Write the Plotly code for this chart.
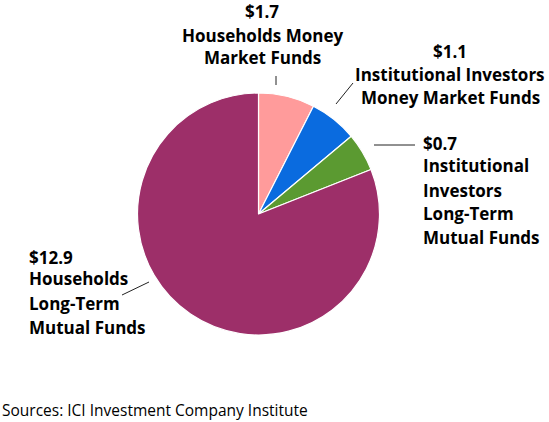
import plotly.graph_objects as go

W, H = 549, 422

# Data
categories = [
    "Households Money Market Funds",
    "Institutional Investors Money Market Funds",
    "Institutional Investors Long-Term Mutual Funds",
    "Households Long-Term Mutual Funds",
]
amounts = ["$1.7", "$1.1", "$0.7", "$12.9"]            # label amounts ($ trillions)
slice_shares = [7.5, 6.4, 5.1, 81.0]                    # slice sizes as drawn (%)
label_lines = [
    ["Households Money", "Market Funds"],
    ["Institutional Investors", "Money Market Funds"],
    ["Institutional", "Investors", "Long-Term", "Mutual Funds"],
    ["Households", "Long-Term", "Mutual Funds"],
]
colors = ["#FF9B9B", "#0A6BDF", "#5B9A31", "#9D2F69"]
source_text = "Sources: ICI Investment Company Institute"

FONT = "Open Sans"


def px(x):
    return x / W


def py(y):
    return 1 - y / H


fig = go.Figure(
    go.Pie(
        labels=categories,
        values=slice_shares,
        sort=False,
        direction="clockwise",
        rotation=0,
        textinfo="none",
        hoverinfo="label",
        marker=dict(colors=colors, line=dict(color="white", width=1.2)),
        domain=dict(x=[px(137), px(380)], y=[py(335), py(93)]),
        showlegend=False,
    )
)

annotations = []
# label blocks: (x, anchor, y positions of each line)
blocks = [
    (262, "center", [12, 35, 58]),
    (450, "center", [52, 74, 97]),
    (421, "left", [143, 166, 190, 213, 237]),
    (27, "left", [257, 278, 303, 327]),
]
for amt, lines, (bx, anchor, ys) in zip(amounts, label_lines, blocks):
    texts = [amt] + lines
    for t, yy in zip(texts, ys):
        annotations.append(dict(
            x=px(bx), y=py(yy), xref="paper", yref="paper",
            text=t, showarrow=False, xanchor=anchor, yanchor="middle",
            font=dict(family=FONT, size=17, color="black", weight="bold"),
        ))

annotations.append(dict(
    x=0, y=py(410), xref="paper", yref="paper", text=source_text,
    showarrow=False, xanchor="left", yanchor="middle",
    font=dict(family=FONT, size=15.5, color="black"),
))

leaders = [
    (276, 76, 276, 85),
    (336, 104, 353, 83),
    (374, 145, 415, 145),
    (122, 295, 149, 282),
]
shapes = [
    dict(type="line", xref="paper", yref="paper",
         x0=px(a), y0=py(b), x1=px(c), y1=py(d),
         line=dict(color="#222222", width=1))
    for a, b, c, d in leaders
]

fig.update_layout(
    width=W, height=H,
    margin=dict(l=0, r=0, t=0, b=0),
    paper_bgcolor="white", plot_bgcolor="white",
    annotations=annotations, shapes=shapes,
)

fig.write_html(
    "out.html",
    config={"displayModeBar": False},
    post_script="document.body.style.margin='0';document.body.style.padding='0';",
)
